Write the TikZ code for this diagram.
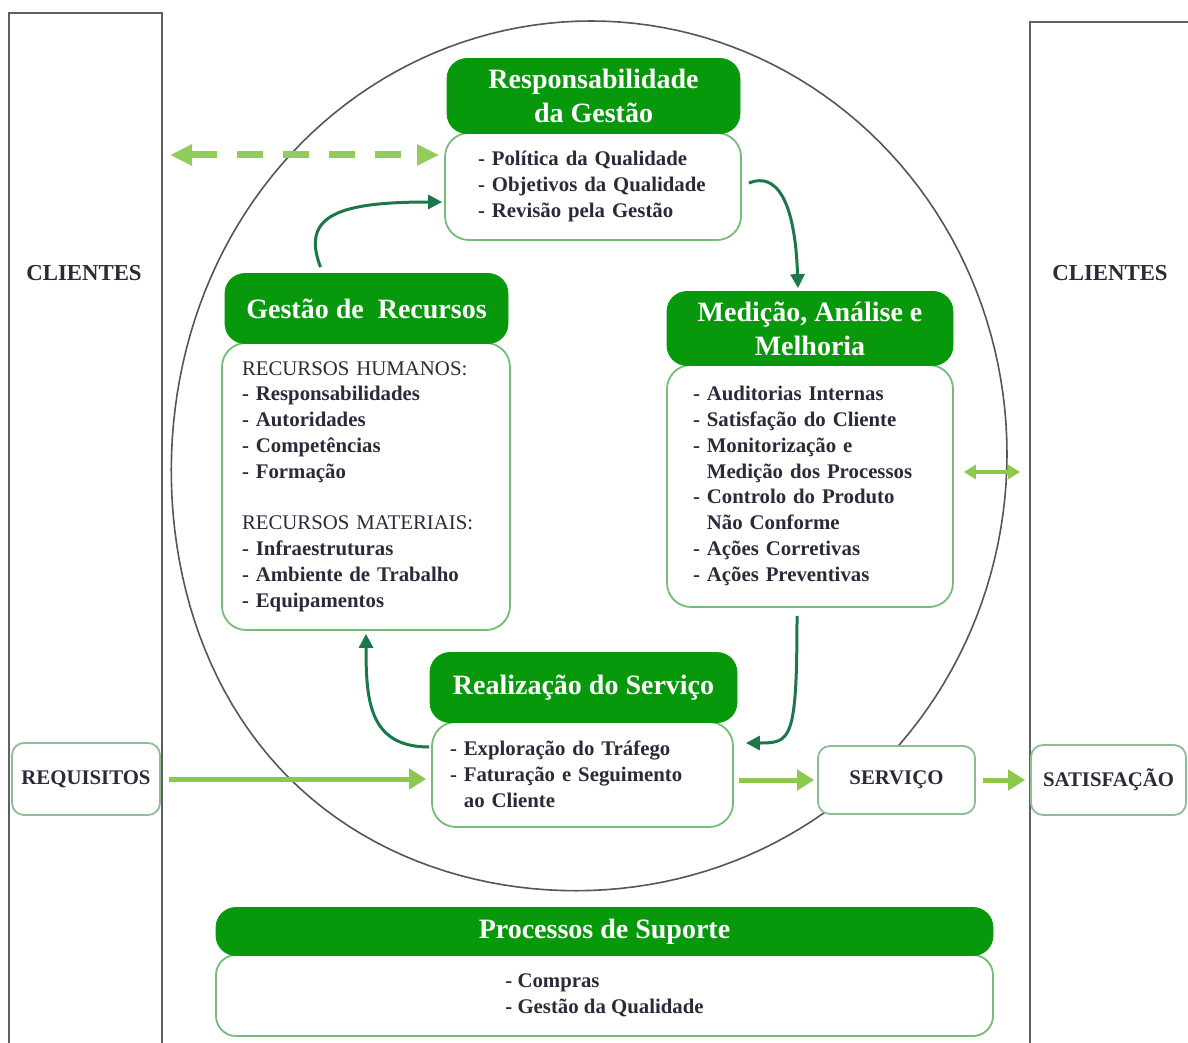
\documentclass[tikz,border=0pt]{standalone}
\usepackage{fontspec}
\setmainfont{Liberation Serif}
\usetikzlibrary{arrows.meta}

\definecolor{hdrgreen}{RGB}{8,152,12}
\definecolor{bodygreen}{RGB}{118,188,118}
\definecolor{boxgreen}{RGB}{140,190,150}
\definecolor{lightgreen}{RGB}{140,200,75}
\definecolor{dashgreen}{RGB}{145,205,90}
\definecolor{darkgreen}{RGB}{28,120,72}
\definecolor{txt}{RGB}{42,42,58}
\definecolor{linegray}{RGB}{95,95,95}

\newcommand{\hdrfont}{\fontsize{14}{17}\selectfont\bfseries}
\newcommand{\bodyfont}{\fontsize{10.4}{12.9}\selectfont\bfseries}
\newcommand{\colfont}{\fontsize{11.4}{13}\selectfont\bfseries}
\newcommand{\boxfont}{\fontsize{10.4}{12}\selectfont\bfseries}

\tikzset{
  column/.style={draw=linegray, line width=1.2pt},
  ring/.style={draw=linegray!90!black, line width=0.8pt},
  hdr/.style={fill=hdrgreen, draw=hdrgreen, rounded corners=10pt, text=white,
    font=\hdrfont, align=center, inner sep=0pt},
  bodybox/.style={draw=bodygreen, line width=0.9pt, fill=white, rounded corners=12pt,
    text=txt, font=\bodyfont, align=left, inner ysep=0pt},
  smallbox/.style={draw=boxgreen, line width=0.9pt, fill=white, rounded corners=6pt,
    text=txt, font=\boxfont, inner sep=0pt},
  collabel/.style={text=txt, font=\colfont},
  lgarrow/.style={draw=lightgreen, line width=2.5pt,
    -{Triangle[length=8.5pt,width=10pt]}},
  lgdouble/.style={draw=lightgreen, line width=2pt,
    {Triangle[length=6pt,width=7pt]}-{Triangle[length=6pt,width=7pt]}},
  lgdash/.style={draw=dashgreen, line width=3.5pt, dash pattern=on 13pt off 10pt,
    {Triangle[length=11pt,width=10pt]}-{Triangle[length=11pt,width=10pt]}},
  dkarrow/.style={draw=darkgreen, line width=1.5pt,
    -{Triangle[length=7pt,width=7pt]}},
}

\begin{document}
\begin{tikzpicture}[x=0.5pt,y=-0.5pt]
\fill[white] (0,0) rectangle (1188,1043);
\useasboundingbox (0,0) rectangle (1188,1043);

% customer columns
\draw[column] (9,1043) -- (9,13) -- (162,13) -- (162,1043);
\draw[column] (1030,1043) -- (1030,22) -- (1188,22);
\node[collabel] (cl) at (84,273) {CLIENTES};
\node[collabel] (cr) at (1110,273) {CLIENTES};
\coordinate (lcol) at (162,155);
\coordinate (rcol) at (1030,472);

% process cycle: an ellipse that swells a little towards the lower left
\draw[ring] plot[domain=0:360, samples=181, variable=\t]
  ({591+(416+18*exp(-((\t-135)/35)^2))*cos(\t)},
   {454+(433+18*exp(-((\t-135)/35)^2))*sin(\t)}) -- cycle;

% Responsabilidade da Gestão
\node[bodybox, minimum height=53.5pt, text width=115pt, inner xsep=16.5pt]
  (rb) at (593,186.5)
  {- Política da Qualidade\\- Objetivos da Qualidade\\- Revisão pela Gestão};
\node[hdr, minimum width=146.5pt, minimum height=37.5pt] (rh) at (593.5,96)
  {Responsabilidade\\da Gestão};

% Medição, Análise e Melhoria
\node[bodybox, minimum height=121pt, text width=117pt, inner xsep=13pt]
  (mb) at (810,486)
  {- Auditorias Internas\\- Satisfação do Cliente\\- Monitorização e\\
   \hphantom{- }Medição dos Processos\\- Controlo do Produto\\
   \hphantom{- }Não Conforme\\- Ações Corretivas\\- Ações Preventivas};
\node[hdr, minimum width=143pt, minimum height=37pt] (mh) at (810,328.5)
  {Medição, Análise e\\Melhoria};

% Gestão de Recursos
\node[bodybox, minimum height=143.5pt, text width=124pt, inner xsep=10pt]
  (gb) at (366,486.5)
  {{\mdseries RECURSOS HUMANOS:}\\- Responsabilidades\\- Autoridades\\
   - Competências\\- Formação\\[12.9pt]{\mdseries RECURSOS MATERIAIS:}\\
   - Infraestruturas\\- Ambiente de Trabalho\\- Equipamentos};
\node[hdr, minimum width=141.5pt, minimum height=35pt] (gh) at (366.5,308.5)
  {Gestão de~ Recursos};

% Realização do Serviço
\node[bodybox, minimum height=52.5pt, text width=132.5pt, inner xsep=9pt]
  (sb) at (582.5,774.5)
  {- Exploração do Tráfego\\- Faturação e Seguimento\\\hphantom{- }ao Cliente};
\node[hdr, minimum width=153.5pt, minimum height=35pt] (sh) at (583.5,687.5)
  {Realização do Serviço};

% Processos de Suporte
\node[bodybox, minimum width=388.5pt, minimum height=40.5pt, rounded corners=10pt]
  (pb) at (604.5,995.5)
  {- Compras\\- Gestão da Qualidade};
\node[hdr, minimum width=388.5pt, minimum height=24pt] (ph) at (604.5,931.5)
  {Processos de Suporte};

% inputs and outputs
\node[smallbox, minimum width=74pt, minimum height=36pt] (req) at (86,779) {REQUISITOS};
\node[smallbox, minimum width=78.5pt, minimum height=34pt] (serv) at (896.5,780) {SERVIÇO};
\node[smallbox, minimum width=77.5pt, minimum height=35pt] (sat) at (1108.5,780) {SATISFAÇÃO};

% light green flows
\draw[lgdash, shorten <=4pt, shorten >=2.5pt] (lcol) -- (lcol -| rb.west);
\draw[lgarrow, shorten <=4pt, shorten >=2.5pt] (req.east) -- (req.east -| sb.west);
\draw[lgarrow, shorten <=2.5pt, shorten >=1.5pt] (sb.east |- serv.west) -- (serv.west);
\draw[lgarrow, shorten <=3.5pt, shorten >=2.5pt] (serv.east) -- (sat.west);
\draw[lgdouble, shorten <=5pt, shorten >=5pt] (mb.east |- rcol) -- (rcol);

% cycle connectors
\draw[dkarrow] ([xshift=-23pt,yshift=3pt]gh.north)
  .. controls +(-20,-52) and +(-103,0) .. ([xshift=-1pt,yshift=-7.75pt]rb.west);
\draw[dkarrow] ([xshift=3.5pt,yshift=1.75pt]rb.east)
  .. controls +(27,-11) and +(-3,-89) .. ([xshift=-6pt,yshift=1.5pt]mh.north);
\draw[dkarrow] ([xshift=-6.5pt,yshift=-4pt]mb.south)
  .. controls +(0,125) and +(45,0) .. ([xshift=6pt,yshift=15.75pt]sb.east);
\draw[dkarrow] ([xshift=-1pt,yshift=13.75pt]sb.west)
  .. controls +(-60,0) and +(0,67) .. ([yshift=-1.5pt]gb.south);
\end{tikzpicture}
\end{document}
